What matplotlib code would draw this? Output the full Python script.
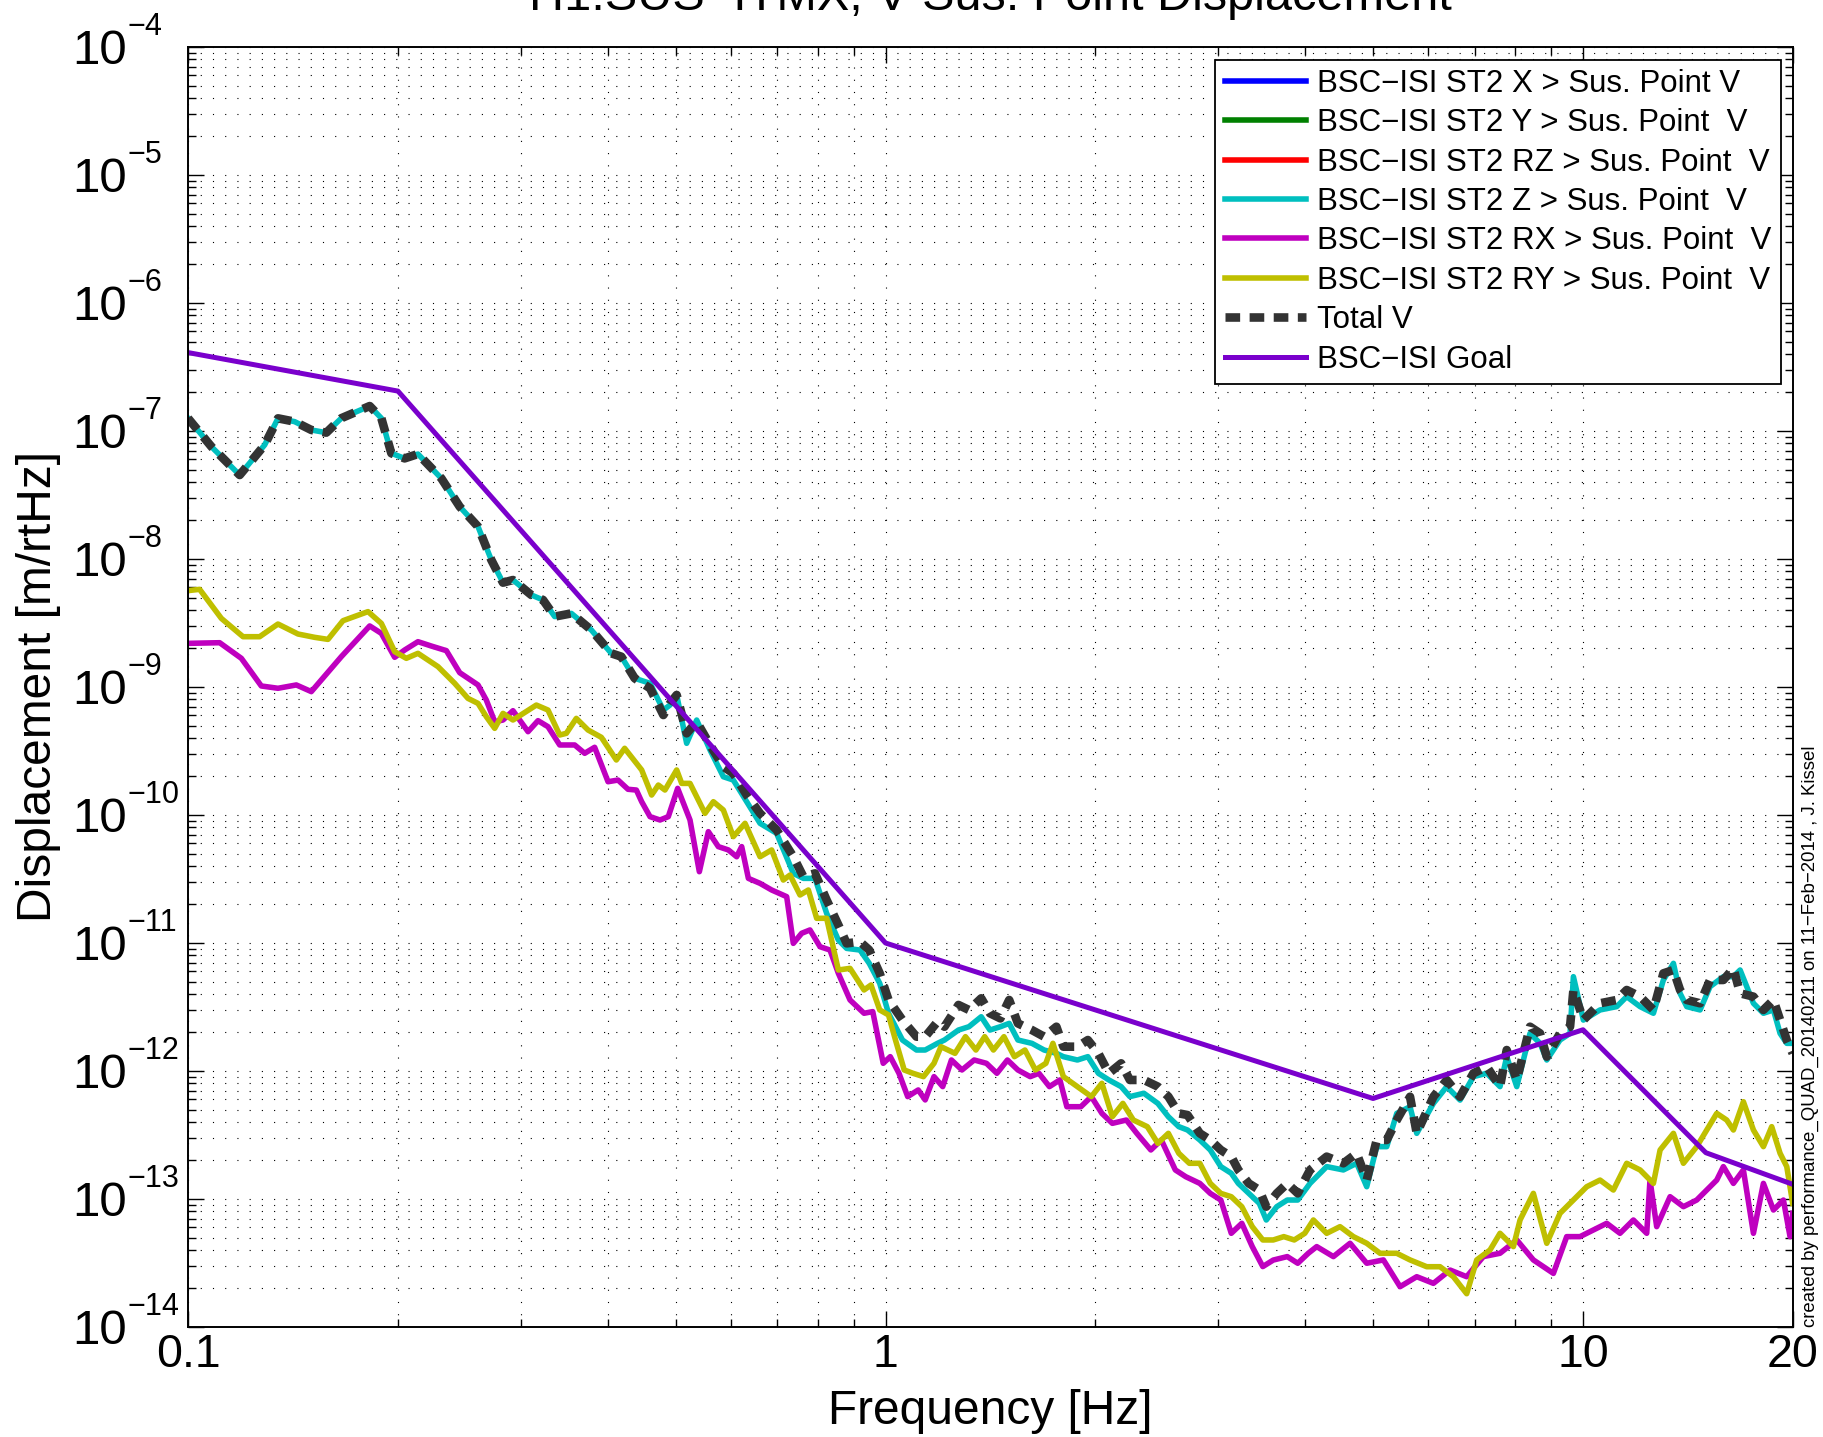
import numpy as np
import matplotlib
matplotlib.use('Agg')
import matplotlib.pyplot as plt
from matplotlib.ticker import FixedLocator, NullFormatter
from matplotlib.transforms import offset_copy

plt.rcParams['font.family'] = ['Liberation Sans', 'DejaVu Sans']

# ---------------- data (log10 frequency [Hz], log10 amplitude [m/rtHz]) ----------------
# Total V and ST2 Z share the same frequency grid: (log10 f, log10 Total, log10 Z)
total_z = [
    (-1.0000, -6.900, -6.900), (-0.9665, -7.122, -7.122), (-0.9259, -7.344, -7.344),
    (-0.8901, -7.109, -7.109), (-0.8710, -6.901, -6.901), (-0.8471, -6.927, -6.927),
    (-0.8232, -6.992, -6.992), (-0.8017, -7.013, -7.013), (-0.7802, -6.900, -6.900),
    (-0.7395, -6.805, -6.805), (-0.7228, -6.900, -6.900), (-0.7085, -7.174, -7.174),
    (-0.6894, -7.214, -7.214), (-0.6703, -7.180, -7.180), (-0.6368, -7.370, -7.370),
    (-0.6105, -7.591, -7.591), (-0.5842, -7.747, -7.747), (-0.5651, -8.008, -8.008),
    (-0.5484, -8.185, -8.185), (-0.5341, -8.164, -8.164), (-0.5078, -8.281, -8.281),
    (-0.4910, -8.320, -8.320), (-0.4743, -8.450, -8.450), (-0.4504, -8.425, -8.425),
    (-0.4217, -8.555, -8.555), (-0.3931, -8.737, -8.737), (-0.3787, -8.763, -8.763),
    (-0.3596, -8.932, -8.932),
    (-0.3376, -9.010, -8.971), (-0.3185, -9.219, -9.180), (-0.3090, -9.128, -9.141),
    (-0.2994, -9.062, -9.062), (-0.2851, -9.362, -9.440), (-0.2707, -9.271, -9.258),
    (-0.2516, -9.453, -9.492), (-0.2325, -9.622, -9.701), (-0.2182, -9.675, -9.727),
    (-0.1990, -9.844, -9.896), (-0.1799, -9.987, -10.065), (-0.1561, -10.117, -10.143),
    (-0.1322, -10.326, -10.456), (-0.1178, -10.482, -10.495), (-0.1011, -10.456, -10.495),
    (-0.0844, -10.664, -10.768), (-0.0676, -10.859, -10.977), (-0.0557, -11.003, -11.042),
    (-0.0366, -10.990, -11.055),
    (-0.0233, -11.055, -11.159), (-0.0083, -11.237, -11.315), (0.0043, -11.445, -11.549),
    (0.0243, -11.602, -11.758), (0.0444, -11.732, -11.836), (0.0569, -11.732, -11.836),
    (0.0745, -11.615, -11.784), (0.0845, -11.654, -11.758), (0.1046, -11.484, -11.680),
    (0.1196, -11.523, -11.654), (0.1372, -11.432, -11.576), (0.1497, -11.549, -11.680),
    (0.1647, -11.589, -11.654), (0.1773, -11.445, -11.628), (0.1898, -11.628, -11.758),
    (0.2099, -11.680, -11.784), (0.2274, -11.732, -11.836), (0.2450, -11.654, -11.862),
    (0.2550, -11.810, -11.888), (0.2751, -11.810, -11.914), (0.2901, -11.758, -11.888),
    (0.3052, -11.862, -12.018), (0.3202, -12.018, -12.070), (0.3378, -11.940, -12.122),
    (0.3503, -12.070, -12.200), (0.3704, -12.070, -12.174), (0.3904, -12.122, -12.253),
    (0.4055, -12.200, -12.357), (0.4205, -12.331, -12.435), (0.4330, -12.344, -12.461),
    (0.4506, -12.487, -12.539), (0.4656, -12.539, -12.617), (0.4807, -12.617, -12.747),
    (0.4957, -12.669, -12.799), (0.5058, -12.773, -12.878), (0.5208, -12.878, -12.956),
    (0.5359, -12.930, -13.034), (0.5459, -13.060, -13.164), (0.5609, -12.956, -13.060),
    (0.5760, -12.878, -13.008), (0.5910, -12.956, -13.008),
    (0.6086, -12.773, -12.878), (0.6325, -12.669, -12.747), (0.6564, -12.721, -12.773),
    (0.6755, -12.643, -12.721), (0.6899, -12.852, -12.904), (0.7042, -12.539, -12.591),
    (0.7186, -12.539, -12.591), (0.7330, -12.383, -12.331), (0.7520, -12.201, -12.279),
    (0.7616, -12.487, -12.487), (0.7855, -12.201, -12.253), (0.8046, -12.070, -12.122),
    (0.8237, -12.201, -12.227), (0.8428, -12.018, -12.044), (0.8620, -11.966, -12.018),
    (0.8810, -12.122, -12.122), (0.8906, -11.836, -11.888), (0.9050, -12.070, -12.122),
    (0.9240, -11.654, -11.706), (0.9384, -11.706, -11.784), (0.9480, -11.888, -11.914),
    (0.9670, -11.706, -11.758), (0.9814, -11.654, -11.706), (0.9862, -11.367, -11.263),
    (1.0005, -11.602, -11.602), (1.0244, -11.471, -11.523), (1.0483, -11.445, -11.497),
    (1.0626, -11.367, -11.419), (1.0818, -11.419, -11.497), (1.1009, -11.523, -11.549),
    (1.1152, -11.237, -11.289), (1.1296, -11.211, -11.159), (1.1391, -11.367, -11.393),
    (1.1487, -11.445, -11.497), (1.1678, -11.471, -11.523), (1.1821, -11.289, -11.341),
    (1.2012, -11.289, -11.263), (1.2156, -11.198, -11.263), (1.2252, -11.393, -11.211),
    (1.2443, -11.419, -11.471), (1.2586, -11.523, -11.549), (1.2730, -11.445, -11.523),
    (1.2825, -11.602, -11.706), (1.2921, -11.758, -11.784), (1.3006, -11.862, -11.784),
]

# ST2 RX -> Sus. Point V : (log10 f, log10 amplitude)
rx_data = [
    (-1.0000, -8.659), (-0.9546, -8.654), (-0.9235, -8.776), (-0.8949, -8.992), (-0.8710, -9.010),
    (-0.8447, -8.984), (-0.8232, -9.036), (-0.7802, -8.763), (-0.7395, -8.523), (-0.7228, -8.581),
    (-0.7037, -8.768), (-0.6894, -8.711), (-0.6703, -8.646), (-0.6511, -8.680), (-0.6296, -8.716),
    (-0.6105, -8.888), (-0.5842, -8.984), (-0.5723, -9.102), (-0.5603, -9.271), (-0.5484, -9.258),
    (-0.5341, -9.185), (-0.5125, -9.349), (-0.4982, -9.263), (-0.4839, -9.310), (-0.4671, -9.453),
    (-0.4456, -9.453), (-0.4313, -9.518), (-0.4170, -9.471), (-0.3978, -9.740), (-0.3835, -9.727),
    (-0.3692, -9.799), (-0.3572, -9.805),
    (-0.3496, -9.896), (-0.3376, -10.013), (-0.3233, -10.039), (-0.3114, -10.013), (-0.2980, -9.792),
    (-0.2803, -10.039), (-0.2669, -10.443), (-0.2540, -10.130), (-0.2397, -10.247), (-0.2253, -10.273),
    (-0.2134, -10.326), (-0.2062, -10.247), (-0.1966, -10.495), (-0.1799, -10.534), (-0.1632, -10.586),
    (-0.1417, -10.638), (-0.1322, -11.003), (-0.1202, -10.924), (-0.1083, -10.898), (-0.0939, -11.029),
    (-0.0796, -11.055), (-0.0676, -11.237), (-0.0509, -11.445),
    (-0.0308, -11.549), (-0.0183, -11.536), (-0.0033, -11.940), (0.0068, -11.888), (0.0193, -12.018),
    (0.0318, -12.200), (0.0469, -12.148), (0.0569, -12.226), (0.0695, -12.044), (0.0820, -12.122),
    (0.0945, -11.914), (0.1096, -11.992), (0.1271, -11.914), (0.1447, -11.940), (0.1597, -12.018),
    (0.1748, -11.914), (0.1898, -11.992), (0.2074, -12.044), (0.2199, -12.018), (0.2350, -12.122),
    (0.2500, -12.070), (0.2600, -12.279), (0.2801, -12.279), (0.2951, -12.200), (0.3102, -12.331),
    (0.3252, -12.409), (0.3453, -12.383), (0.3603, -12.487), (0.3804, -12.617), (0.3954, -12.539),
    (0.4155, -12.773), (0.4305, -12.826), (0.4506, -12.878), (0.4656, -12.956), (0.4807, -13.008),
    (0.4957, -13.268), (0.5108, -13.190), (0.5258, -13.372), (0.5409, -13.528), (0.5559, -13.477),
    (0.5760, -13.450), (0.5910, -13.502), (0.6061, -13.424),
    (0.6182, -13.372), (0.6421, -13.450), (0.6660, -13.346), (0.6899, -13.502), (0.7138, -13.476),
    (0.7377, -13.685), (0.7616, -13.607), (0.7855, -13.659), (0.8094, -13.555), (0.8332, -13.607),
    (0.8571, -13.450), (0.8810, -13.424), (0.9050, -13.320), (0.9288, -13.476), (0.9575, -13.581),
    (0.9766, -13.294), (0.9957, -13.294), (1.0148, -13.242), (1.0340, -13.190), (1.0530, -13.268),
    (1.0722, -13.164), (1.0913, -13.268), (1.0960, -12.852), (1.1056, -13.216), (1.1248, -12.982),
    (1.1439, -13.060), (1.1630, -13.008), (1.1774, -12.930), (1.1917, -12.852), (1.2012, -12.747),
    (1.2156, -12.878), (1.2299, -12.773), (1.2443, -13.268), (1.2586, -12.878), (1.2730, -13.086),
    (1.2873, -13.008), (1.2968, -13.294), (1.3006, -13.112),
]

# ST2 RY -> Sus. Point V : (log10 f, log10 amplitude)
ry_data = [
    (-1.0000, -8.247), (-0.9833, -8.237), (-0.9522, -8.464), (-0.9211, -8.607), (-0.8973, -8.607),
    (-0.8710, -8.508), (-0.8423, -8.586), (-0.8184, -8.612), (-0.7993, -8.628), (-0.7778, -8.482),
    (-0.7419, -8.411), (-0.7228, -8.503), (-0.7037, -8.724), (-0.6870, -8.776), (-0.6703, -8.737),
    (-0.6416, -8.841), (-0.6177, -8.971), (-0.5986, -9.089), (-0.5842, -9.128), (-0.5723, -9.232),
    (-0.5603, -9.323), (-0.5484, -9.206), (-0.5341, -9.258), (-0.5006, -9.141), (-0.4839, -9.180),
    (-0.4671, -9.375), (-0.4576, -9.362), (-0.4433, -9.245), (-0.4265, -9.336), (-0.4074, -9.393),
    (-0.3859, -9.570), (-0.3740, -9.479), (-0.3572, -9.596),
    (-0.3496, -9.648), (-0.3353, -9.844), (-0.3257, -9.766), (-0.3162, -9.805), (-0.2994, -9.648),
    (-0.2922, -9.753), (-0.2803, -9.753), (-0.2588, -9.987), (-0.2468, -9.896), (-0.2325, -9.961),
    (-0.2182, -10.169), (-0.2014, -10.065), (-0.1799, -10.326), (-0.1632, -10.273), (-0.1465, -10.508),
    (-0.1369, -10.469), (-0.1226, -10.625), (-0.1106, -10.586), (-0.0987, -10.807), (-0.0844, -10.807),
    (-0.0676, -11.211), (-0.0509, -11.198),
    (-0.0308, -11.367), (-0.0208, -11.328), (-0.0083, -11.523), (0.0043, -11.562), (0.0143, -11.758),
    (0.0268, -11.992), (0.0394, -12.018), (0.0544, -12.044), (0.0695, -11.940), (0.0795, -11.810),
    (0.0996, -11.862), (0.1146, -11.732), (0.1296, -11.836), (0.1422, -11.732), (0.1547, -11.836),
    (0.1698, -11.732), (0.1848, -11.888), (0.1999, -11.836), (0.2149, -11.992), (0.2299, -11.940),
    (0.2400, -11.784), (0.2550, -12.044), (0.2751, -12.122), (0.2951, -12.200), (0.3102, -12.096),
    (0.3252, -12.357), (0.3403, -12.253), (0.3553, -12.383), (0.3754, -12.435), (0.3904, -12.565),
    (0.4055, -12.487), (0.4205, -12.643), (0.4356, -12.721), (0.4506, -12.721), (0.4656, -12.878),
    (0.4807, -12.956), (0.4957, -12.982), (0.5108, -13.060), (0.5258, -13.216), (0.5409, -13.320),
    (0.5559, -13.320), (0.5710, -13.294), (0.5860, -13.320), (0.6011, -13.268),
    (0.6134, -13.164), (0.6325, -13.268), (0.6516, -13.216), (0.6708, -13.294), (0.6899, -13.346),
    (0.7090, -13.424), (0.7329, -13.424), (0.7520, -13.476), (0.7759, -13.529), (0.7950, -13.529),
    (0.8141, -13.607), (0.8332, -13.740), (0.8476, -13.476), (0.8667, -13.398), (0.8810, -13.268),
    (0.9002, -13.372), (0.9097, -13.164), (0.9288, -12.956), (0.9480, -13.346), (0.9670, -13.112),
    (0.9862, -13.008), (1.0053, -12.904), (1.0244, -12.852), (1.0435, -12.930), (1.0626, -12.721),
    (1.0818, -12.773), (1.1009, -12.878), (1.1105, -12.617), (1.1296, -12.487), (1.1439, -12.721),
    (1.1630, -12.591), (1.1774, -12.461), (1.1917, -12.331), (1.2060, -12.383), (1.2156, -12.461),
    (1.2299, -12.240), (1.2443, -12.461), (1.2586, -12.591), (1.2705, -12.435), (1.2825, -12.643),
    (1.2921, -12.747), (1.3006, -13.034),
]

# BSC-ISI goal (Hz, m/rtHz)
goal_f = [0.1, 0.2, 1.0, 5.0, 10.0, 15.0, 20.0]
goal_v = [4.1e-7, 2.05e-7, 1.0e-11, 6.1e-13, 2.1e-12, 2.3e-13, 1.3e-13]

labels = [
    'BSC\u2212ISI ST2 X > Sus. Point V',
    'BSC\u2212ISI ST2 Y > Sus. Point  V',
    'BSC\u2212ISI ST2 RZ > Sus. Point  V',
    'BSC\u2212ISI ST2 Z > Sus. Point  V',
    'BSC\u2212ISI ST2 RX > Sus. Point  V',
    'BSC\u2212ISI ST2 RY > Sus. Point  V',
    'Total V',
    'BSC\u2212ISI Goal',
]
x_major = [0.1, 1, 10, 20]
x_major_labels = ['0.1', '1', '10', '20']
y_exponents = list(range(-14, -3))

# ---------------- figure ----------------
W, H = 1824, 1437
fig = plt.figure(figsize=(W / 100, H / 100), dpi=100)
ax = fig.add_axes([188 / W, 110 / H, 1605 / W, 1280 / H])

tz = np.array(total_z)
f_tz = 10 ** tz[:, 0]
tot = 10 ** tz[:, 1]
zz = 10 ** tz[:, 2]
rx = np.array(rx_data)
ry = np.array(ry_data)

lw = 4.0
ax.plot([], [], color='#0000FF', lw=lw, label=labels[0])
ax.plot([], [], color='#008000', lw=lw, label=labels[1])
ax.plot([], [], color='#FF0000', lw=lw, label=labels[2])
ax.plot(f_tz, zz, color='#00BFBF', lw=lw, label=labels[3])
ax.plot(10 ** rx[:, 0], 10 ** rx[:, 1], color='#BF00BF', lw=lw, label=labels[4])
ax.plot(10 ** ry[:, 0], 10 ** ry[:, 1], color='#BFBF00', lw=lw, label=labels[5])
ax.plot(f_tz, tot, color='#333333', lw=6.2, linestyle=(0, (1.7, 1.1)),
        dash_capstyle='butt', label=labels[6])
ax.plot(goal_f, goal_v, color='#7A00CC', lw=3.6, label=labels[7])

ax.set_xscale('log')
ax.set_yscale('log')
ax.set_xlim(0.1, 20)
ax.set_ylim(1e-14, 1e-4)

ax.xaxis.set_major_locator(FixedLocator(x_major))
ax.set_xticklabels(x_major_labels)
x_minor = [k * 0.1 for k in range(2, 10)] + [k * 1.0 for k in range(2, 10)]
ax.xaxis.set_minor_locator(FixedLocator(x_minor))
ax.xaxis.set_minor_formatter(NullFormatter())

ax.yaxis.set_major_locator(FixedLocator([10.0 ** e for e in y_exponents]))
ax.yaxis.set_major_formatter(NullFormatter())
y_minor = [k * 10.0 ** e for e in range(-14, -4) for k in range(2, 10)]
ax.yaxis.set_minor_locator(FixedLocator(y_minor))
ax.yaxis.set_minor_formatter(NullFormatter())

# y tick labels in MATLAB style: large "10" centred on the tick, small exponent above
base_tr = offset_copy(ax.get_yaxis_transform(), fig=fig, x=-61, y=-17.5, units='dots')
exp_tr = offset_copy(ax.get_yaxis_transform(), fig=fig, x=-60, y=11.5, units='dots')
for e in y_exponents:
    ax.text(0, 10.0 ** e, '10', transform=base_tr, ha='right', va='baseline',
            fontsize=35.5, clip_on=False)
    ax.text(0, 10.0 ** e, '\u2212%d' % (-e), transform=exp_tr, ha='left', va='baseline',
            fontsize=22, clip_on=False)

ax.tick_params(which='both', direction='in', top=True, right=True, width=1.0, colors='black')
ax.tick_params(which='major', length=11.5)
ax.tick_params(which='minor', length=5.5)
ax.tick_params(axis='x', which='major', labelsize=33.5, pad=4)

ax.grid(True, which='both', color='black', lw=0.8, linestyle=(0, (1, 10)))
ax.set_axisbelow(True)
for s in ax.spines.values():
    s.set_linewidth(1.4)

ax.set_xlabel('Frequency [Hz]', fontsize=34.5, labelpad=9)
ax.set_ylabel('Displacement [m/rtHz]', fontsize=34.5, labelpad=0)
ax.yaxis.set_label_coords(-(188 - 61) / 1605, 0.5)

leg = ax.legend(loc='upper right', fontsize=22.5, frameon=True, fancybox=False,
                edgecolor='black', framealpha=1, borderaxespad=0.4, handlelength=2.6,
                handletextpad=0.35, labelspacing=0.3, borderpad=0.3)
leg.get_frame().set_linewidth(1.3)

fig.text(990.5 / W, 1 - 10 / H, 'H1:SUS\u2212ITMX, V Sus. Point Displacement',
         ha='center', va='baseline', fontsize=35)
fig.text(1810 / W, 110 / H,
         'created by performance_QUAD_20140211 on 11\u2212Feb\u22122014 , J. Kissel',
         rotation=90, ha='center', va='bottom', fontsize=13.4)

fig.savefig('out.png', dpi=100)
